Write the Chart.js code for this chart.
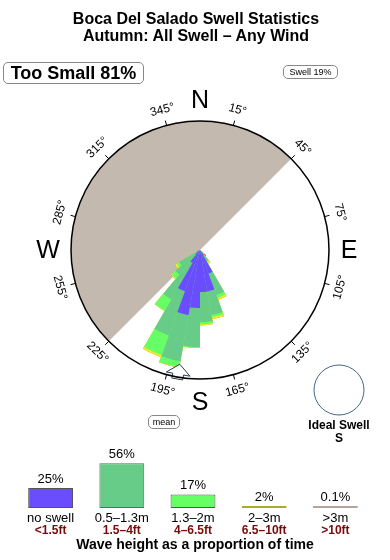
<!DOCTYPE html>
<html>
<head>
<meta charset="utf-8">
<script src="https://cdn.jsdelivr.net/npm/chart.js@4"></script>
<style>
body { margin: 0; background: #fff; font-family: "Liberation Sans", Arial, sans-serif; }
#wrap { position: relative; width: 390px; height: 560px; overflow: hidden; }
canvas { position: absolute; left: 0; }
.t { position: absolute; white-space: nowrap; color: #000; }
.box { position: absolute; box-sizing: border-box; border: 1px solid #888; border-radius: 5px; text-align: center; white-space: nowrap; }
</style>
</head>
<body>
<div id="wrap">
  <canvas id="rose" width="390" height="440" style="top:0"></canvas>
  <canvas id="bars" width="390" height="120" style="top:440px"></canvas>
  <div class="t" style="left:0;width:392px;top:9px;text-align:center;font-weight:bold;font-size:16px;line-height:19px">Boca Del Salado Swell Statistics</div>
  <div class="t" style="left:0;width:392px;top:26px;text-align:center;font-weight:bold;font-size:16px;line-height:19px">Autumn: All Swell – Any Wind</div>
  <div class="box" style="left:3px;top:62px;width:141px;height:22px;font-weight:bold;font-size:18px;line-height:20px">Too Small 81%</div>
  <div class="box" style="left:283px;top:65px;width:55px;height:14px;font-size:9px;line-height:12px">Swell 19%</div>
  <div class="box" style="left:148px;top:415px;width:32px;height:14px;font-size:9px;line-height:12px">mean</div>
  <div class="t" style="left:289px;width:100px;top:418px;text-align:center;font-weight:bold;font-size:12px;line-height:14px">Ideal Swell</div>
  <div class="t" style="left:289px;width:100px;top:431px;text-align:center;font-weight:bold;font-size:12px;line-height:14px">S</div>
</div>
<script>
// Swell rose: 10 degree direction bins, values relative to the outer ring (ring = 100)
const binStart = [130, 140, 150, 160, 170, 180, 190, 200, 210, 220, 230];
const noSwell  = [0,   4.7, 19.4, 32.6, 32.6, 45.0, 51.2, 34.1, 11.6, 4.7, 3.1];
const midSwell = [3.1, 5.4, 17.8, 18.6, 23.3, 30.2, 36.4, 36.4, 32.6, 20.2, 15.5];
const bigSwell = [0.8, 0.8, 2.3,  1.6,  1.6,  0.8,  4.7,  16.3, 10.1, 3.9, 2.3];
const hugeSwell = [0.8, 1.6, 1.6, 1.6,  0.8,  0,    0.4,  1.6,  0.4,  0.8, 1.6];
const maxSwell = [1.6, 0,   0,    0,    0,    0,    0,    0,    0,    0,   0];
const meanDir = 190;
const landFrom = 225, landTo = 45;
const degLabels = [15, 45, 75, 105, 135, 165, 195, 225, 255, 285, 315, 345];

// legend bars
const bandMetric = ['no swell', '0.5–1.3m', '1.3–2m', '2–3m', '>3m'];
const bandFeet = ['<1.5ft', '1.5–4ft', '4–6.5ft', '6.5–10ft', '>10ft'];
const bandShare = [25, 56, 17, 2, 0.1];
const bandColors = ['#6a4dff', '#66cc88', '#66ff66', '#eeee22', '#ee4444'];
const bandEdges = ['#555', '#666', '#555', '#aaaa33', '#bba0a0'];

const FONT = '"Liberation Sans", Arial, sans-serif';

function fullRing(values) {
  const out = new Array(36).fill(0);
  binStart.forEach((b, i) => { out[b / 10] = values[i]; });
  return out;
}

const bands = [noSwell, midSwell, bigSwell, hugeSwell, maxSwell].map(fullRing);
const roseSets = [];
let running = new Array(36).fill(0);
bands.forEach((band, k) => {
  running = running.map((v, i) => v + band[i]);
  roseSets.push({
    data: running.slice(),
    backgroundColor: bandColors[k],
    borderWidth: 0
  });
});

function toRad(bearing) {
  return (bearing - 90) * Math.PI / 180;
}

const rosePlugin = {
  id: 'roseDecor',
  beforeDatasetsDraw(chart) {
    const r = chart.scales.r;
    const ctx = chart.ctx;
    const cx = r.xCenter, cy = r.yCenter, R = r.drawingArea;
    ctx.save();
    ctx.fillStyle = '#c4b9ae';
    ctx.beginPath();
    ctx.moveTo(cx, cy);
    ctx.arc(cx, cy, R, toRad(landFrom), toRad(landTo + 360), false);
    ctx.closePath();
    ctx.fill();
    ctx.restore();
  },
  afterDatasetsDraw(chart) {
    const r = chart.scales.r;
    const ctx = chart.ctx;
    const cx = r.xCenter, cy = r.yCenter, R = r.drawingArea;
    ctx.save();

    // mean direction arrow
    const a = toRad(meanDir);
    const ux = Math.cos(a), uy = Math.sin(a);
    const px = -uy, py = ux;
    const pt = (d, off) => [cx + ux * d + px * off, cy + uy * d + py * off];
    const shape = [pt(116, 0), pt(126, 12), pt(126, 5.5), pt(131, 5.5), pt(131, -5.5), pt(126, -5.5), pt(126, -12)];
    ctx.beginPath();
    shape.forEach((p, i) => (i ? ctx.lineTo(p[0], p[1]) : ctx.moveTo(p[0], p[1])));
    ctx.closePath();
    ctx.fillStyle = '#fff';
    ctx.fill();
    ctx.strokeStyle = '#2c3e50';
    ctx.lineWidth = 1;
    ctx.stroke();

    // ring
    ctx.beginPath();
    ctx.arc(cx, cy, R, 0, Math.PI * 2);
    ctx.strokeStyle = '#000';
    ctx.lineWidth = 1.5;
    ctx.stroke();

    // degree ticks and labels
    ctx.fillStyle = '#000';
    ctx.font = '12px ' + FONT;
    ctx.textAlign = 'center';
    ctx.textBaseline = 'middle';
    ctx.lineWidth = 1;
    degLabels.forEach(d => {
      const t = toRad(d);
      ctx.beginPath();
      ctx.moveTo(cx + R * Math.cos(t), cy + R * Math.sin(t));
      ctx.lineTo(cx + (R + 5) * Math.cos(t), cy + (R + 5) * Math.sin(t));
      ctx.stroke();
      ctx.save();
      ctx.translate(cx + (R + 16) * Math.cos(t), cy + (R + 16) * Math.sin(t));
      const rot = (d > 90 && d < 270) ? d - 180 : d;
      ctx.rotate(rot * Math.PI / 180);
      ctx.fillText(d + '°', 0, 0);
      ctx.restore();
    });

    // cardinal letters
    ctx.font = '25px ' + FONT;
    [['N', 0, 150], ['E', 90, 149], ['S', 180, 152], ['W', 270, 152]].forEach(([c, b, d]) => {
      const t = toRad(b);
      ctx.fillText(c, cx + d * Math.cos(t), cy + d * Math.sin(t) + 1);
    });

    // ideal swell marker
    ctx.beginPath();
    ctx.arc(339, 390, 25, 0, Math.PI * 2);
    ctx.strokeStyle = '#446688';
    ctx.lineWidth = 1;
    ctx.stroke();
    ctx.restore();
  }
};

new Chart(document.getElementById('rose'), {
  type: 'polarArea',
  data: {
    labels: Array.from({ length: 36 }, (_, i) => String(i * 10)),
    datasets: roseSets
  },
  options: {
    responsive: false,
    animation: false,
    layout: { padding: { left: 71, right: 61, top: 121, bottom: 61 } },
    plugins: { legend: { display: false }, tooltip: { enabled: false } },
    scales: {
      r: {
        min: 0,
        max: 100,
        startAngle: 0,
        ticks: { display: false },
        grid: { display: false },
        angleLines: { display: false },
        pointLabels: { display: false }
      }
    }
  },
  plugins: [rosePlugin]
});

const barText = {
  id: 'barText',
  afterDatasetsDraw(chart) {
    const ctx = chart.ctx;
    const meta = chart.getDatasetMeta(0);
    ctx.save();
    ctx.textAlign = 'center';
    ctx.textBaseline = 'middle';
    meta.data.forEach((bar, i) => {
      ctx.fillStyle = '#000';
      ctx.font = '13px ' + FONT;
      ctx.fillText(bandShare[i] + '%', bar.x, bar.y - 9);
      ctx.font = '13px ' + FONT;
      ctx.fillText(bandMetric[i], bar.x, 78);
      ctx.fillStyle = '#7a0a0a';
      ctx.font = 'bold 12px ' + FONT;
      ctx.fillText(bandFeet[i], bar.x, 91);
    });
    ctx.fillStyle = '#000';
    ctx.font = 'bold 14px ' + FONT;
    ctx.fillText('Wave height as a proportion of time', 195, 105);
    ctx.restore();
  }
};

new Chart(document.getElementById('bars'), {
  type: 'bar',
  data: {
    labels: bandMetric,
    datasets: [{
      data: bandShare,
      backgroundColor: bandColors,
      borderColor: bandEdges,
      borderWidth: 1,
      borderSkipped: false,
      categoryPercentage: 1,
      barPercentage: 0.63,
      minBarLength: 2
    }]
  },
  options: {
    responsive: false,
    animation: false,
    layout: { padding: { left: 15, right: 19, top: 8, bottom: 52 } },
    plugins: { legend: { display: false }, tooltip: { enabled: false } },
    scales: {
      x: { display: false },
      y: { display: false, min: 0, max: 75 }
    }
  },
  plugins: [barText]
});
</script>
</body>
</html>
